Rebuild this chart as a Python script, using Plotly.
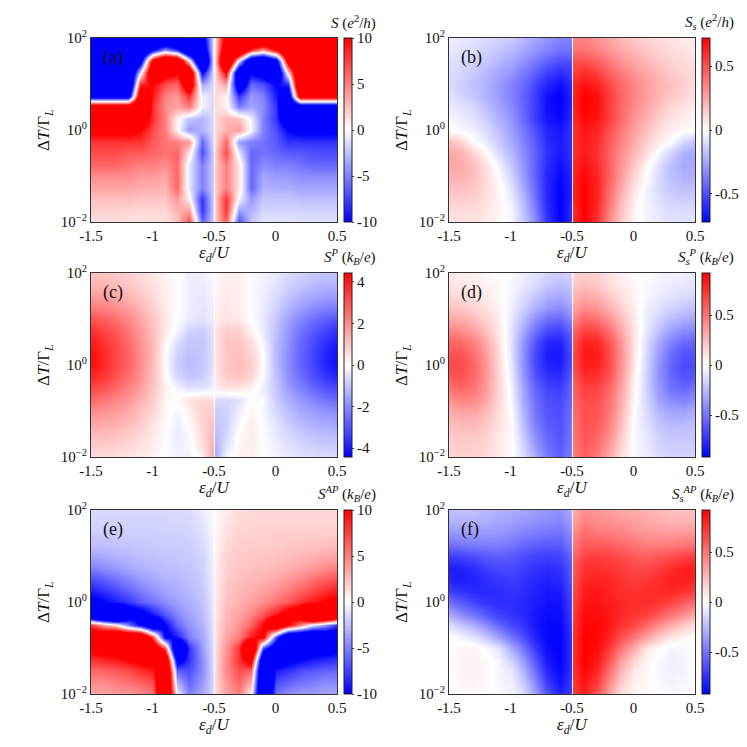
import plotly.graph_objects as go

# grid: eps_d/U columns, log10(dT/Gamma_L) rows (top to bottom)
eps = [-1.5, -1.4, -1.3, -1.2, -1.1, -1.0, -0.9, -0.8, -0.7, -0.6, -0.51, -0.5,
       -0.49, -0.4, -0.3, -0.2, -0.1, 0.0, 0.1, 0.2, 0.3, 0.4, 0.5]
log_dT = [2.0, 1.75, 1.5, 1.25, 1.0, 0.75, 0.5, 0.25, 0.0,
          -0.25, -0.5, -0.75, -1.0, -1.25, -1.5, -1.75, -2.0]

x_ticks = [-1.5, -1, -0.5, 0, 0.5]
x_ticktext = ['-1.5', '-1', '-0.5', '0', '0.5']
y_ticks = [-2, 0, 2]
y_ticktext = ['10<sup>−2</sup>', '10<sup>0</sup>', '10<sup>2</sup>']

# (a) S (e^2/h); values beyond +-10 are saturated in the picture
S = [
    [-20, -20, -20, -20, -20, -20, -20, -20, -20, -12, -1.5, 0, 1.5, 12, 20, 20, 20, 20, 20, 20, 20, 20, 20],
    [-20, -20, -20, -20, -20, -10, -4, -8, -20, -15, -1.5, 0, 1.5, 15, 20, 8, 4, 10, 20, 20, 20, 20, 20],
    [-20, -20, -20, -20, -13, 13, 20, 18, 1.5, -22, -1.5, 0, 1.5, 22, -1.5, -18, -20, -13, 13, 20, 20, 20, 20],
    [-20, -20, -20, -20, -1, 18, 12, 10, 18, -10, -1.5, 0, 1.5, 10, -18, -10, -12, -18, 1, 20, 20, 20, 20],
    [-20, -20, -20, -21, 8, 10, 7, 6, 15, -3.6, -1.5, 0, 1.5, 3.6, -15, -6, -7, -10, -8, 21, 20, 20, 20],
    [-14, -14, -14, -14, 15, 9, 5, 4, 8, -0.5, -1.5, 0, 1.5, 0.5, -8, -4, -5, -9, -15, 14, 14, 14, 14],
    [16, 16, 16, 16, 20, 8, 4.5, 3.5, 5, -0.5, -1.5, 0, 1.5, 0.5, -5, -3.5, -4.5, -8, -20, -16, -16, -16, -16],
    [16, 16, 16, 16, 14, 8, 5, 0.5, -2.5, -3, -1.5, 0, 1.5, 3, 2.5, -0.5, -5, -8, -14, -16, -16, -16, -16],
    [11, 11, 11, 11, 10, 7, 5, 0.3, -4, -3, -1.5, 0, 1.5, 3, 4, -0.3, -5, -7, -10, -11, -11, -11, -11],
    [8, 8, 8, 8, 8, 6.5, 5.5, 5, 4, -6, -1.5, 0, 1.5, 6, -4, -5, -5.5, -6.5, -8, -8, -8, -8, -8],
    [7, 7, 7, 6.5, 6.5, 6, 5.5, 6, 1, -7, -2, 0, 2, 7, -1, -6, -5.5, -6, -6.5, -6.5, -7, -7, -7],
    [6, 6, 6, 5.5, 5, 5, 4.5, 6, -1, -5, -2, 0, 2, 5, 1, -6, -4.5, -5, -5, -5.5, -6, -6, -6],
    [4.5, 4.5, 4.5, 4.5, 4, 4, 3.5, 6, -1, -5, -2, 0, 2, 5, 1, -6, -3.5, -4, -4, -4.5, -4.5, -4.5, -4.5],
    [3.5, 3.5, 3.5, 3.5, 3.2, 3.2, 3, 6, -1, -5, -2, 0, 2, 5, 1, -6, -3, -3.2, -3.2, -3.5, -3.5, -3.5, -3.5],
    [2.5, 2.5, 2.5, 2.5, 2.3, 2.3, 2.2, 4, 0.5, -8, -2, 0, 2, 8, -0.5, -4, -2.2, -2.3, -2.3, -2.5, -2.5, -2.5, -2.5],
    [1.8, 1.8, 1.8, 1.7, 1.6, 1.6, 1.6, 3, 4, -8, -2, 0, 2, 8, -4, -3, -1.6, -1.6, -1.6, -1.7, -1.8, -1.8, -1.8],
    [1.2, 1.2, 1.2, 1.2, 1.1, 1.1, 1.1, 2.2, 7, -6, -2, 0, 2, 6, -7, -2.2, -1.1, -1.1, -1.1, -1.2, -1.2, -1.2, -1.2],
]

# (b) S_s (e^2/h)
Ss = [
    [-0.05, -0.06, -0.08, -0.1, -0.12, -0.15, -0.2, -0.25, -0.3, -0.35, -0.35, 0, 0.35, 0.35, 0.3, 0.25, 0.2, 0.15, 0.12, 0.1, 0.08, 0.06, 0.05],
    [-0.06, -0.08, -0.1, -0.13, -0.16, -0.2, -0.25, -0.3, -0.35, -0.4, -0.4, 0, 0.4, 0.4, 0.35, 0.3, 0.25, 0.2, 0.16, 0.13, 0.1, 0.08, 0.06],
    [-0.08, -0.1, -0.13, -0.16, -0.2, -0.25, -0.3, -0.38, -0.45, -0.5, -0.5, 0, 0.5, 0.5, 0.45, 0.38, 0.3, 0.25, 0.2, 0.16, 0.13, 0.1, 0.08],
    [-0.1, -0.12, -0.15, -0.2, -0.25, -0.3, -0.38, -0.45, -0.55, -0.6, -0.55, 0, 0.55, 0.6, 0.55, 0.45, 0.38, 0.3, 0.25, 0.2, 0.15, 0.12, 0.1],
    [-0.1, -0.14, -0.18, -0.22, -0.28, -0.35, -0.42, -0.52, -0.62, -0.68, -0.6, 0, 0.6, 0.68, 0.62, 0.52, 0.42, 0.35, 0.28, 0.22, 0.18, 0.14, 0.1],
    [-0.08, -0.12, -0.16, -0.22, -0.28, -0.35, -0.44, -0.55, -0.68, -0.72, -0.62, 0, 0.62, 0.72, 0.68, 0.55, 0.44, 0.35, 0.28, 0.22, 0.16, 0.12, 0.08],
    [-0.05, -0.08, -0.12, -0.18, -0.25, -0.33, -0.43, -0.55, -0.68, -0.72, -0.62, 0, 0.62, 0.72, 0.68, 0.55, 0.43, 0.33, 0.25, 0.18, 0.12, 0.08, 0.05],
    [-0.02, -0.05, -0.08, -0.14, -0.22, -0.3, -0.42, -0.55, -0.66, -0.7, -0.6, 0, 0.6, 0.7, 0.66, 0.55, 0.42, 0.3, 0.22, 0.14, 0.08, 0.05, 0.02],
    [0.0, -0.02, -0.05, -0.1, -0.18, -0.27, -0.38, -0.5, -0.62, -0.66, -0.58, 0, 0.58, 0.66, 0.62, 0.5, 0.38, 0.27, 0.18, 0.1, 0.05, 0.02, 0.0],
    [0.18, 0.12, 0.0, -0.06, -0.14, -0.24, -0.35, -0.47, -0.6, -0.65, -0.58, 0, 0.58, 0.65, 0.6, 0.47, 0.35, 0.24, 0.14, 0.06, 0.0, -0.12, -0.18],
    [0.25, 0.22, 0.12, 0.02, -0.1, -0.2, -0.32, -0.45, -0.58, -0.65, -0.58, 0, 0.58, 0.65, 0.58, 0.45, 0.32, 0.2, 0.1, -0.02, -0.12, -0.22, -0.25],
    [0.25, 0.24, 0.18, 0.08, -0.03, -0.16, -0.3, -0.45, -0.6, -0.68, -0.6, 0, 0.6, 0.68, 0.6, 0.45, 0.3, 0.16, 0.03, -0.08, -0.18, -0.24, -0.25],
    [0.22, 0.22, 0.18, 0.1, 0.0, -0.12, -0.28, -0.45, -0.62, -0.7, -0.62, 0, 0.62, 0.7, 0.62, 0.45, 0.28, 0.12, 0.0, -0.1, -0.18, -0.22, -0.22],
    [0.18, 0.18, 0.16, 0.1, 0.03, -0.08, -0.24, -0.42, -0.62, -0.72, -0.62, 0, 0.62, 0.72, 0.62, 0.42, 0.24, 0.08, -0.03, -0.1, -0.16, -0.18, -0.18],
    [0.14, 0.14, 0.13, 0.09, 0.03, -0.05, -0.2, -0.4, -0.62, -0.72, -0.62, 0, 0.62, 0.72, 0.62, 0.4, 0.2, 0.05, -0.03, -0.09, -0.13, -0.14, -0.14],
    [0.1, 0.1, 0.1, 0.07, 0.03, -0.03, -0.17, -0.36, -0.6, -0.72, -0.6, 0, 0.6, 0.72, 0.6, 0.36, 0.17, 0.03, -0.03, -0.07, -0.1, -0.1, -0.1],
    [0.08, 0.08, 0.08, 0.06, 0.03, -0.02, -0.15, -0.33, -0.58, -0.72, -0.6, 0, 0.6, 0.72, 0.58, 0.33, 0.15, 0.02, -0.03, -0.06, -0.08, -0.08, -0.08],
]

# (c) S^P (k_B/e)
SP = [
    [1.0, 1.0, 0.9, 0.8, 0.6, 0.4, 0.2, 0.05, -0.3, -0.3, -0.1, 0, 0.1, 0.3, 0.3, -0.05, -0.2, -0.4, -0.6, -0.8, -0.9, -1.0, -1.0],
    [1.3, 1.3, 1.2, 1.0, 0.8, 0.5, 0.25, 0.05, -0.3, -0.35, -0.15, 0, 0.15, 0.35, 0.3, -0.05, -0.25, -0.5, -0.8, -1.0, -1.2, -1.3, -1.3],
    [1.7, 1.7, 1.5, 1.3, 1.0, 0.65, 0.3, 0.05, -0.3, -0.4, -0.2, 0, 0.2, 0.4, 0.3, -0.05, -0.3, -0.65, -1.0, -1.3, -1.5, -1.7, -1.7],
    [2.3, 2.2, 2.0, 1.7, 1.3, 0.8, 0.35, 0.05, -0.3, -0.45, -0.25, 0, 0.25, 0.45, 0.3, -0.05, -0.35, -0.8, -1.3, -1.7, -2.0, -2.2, -2.3],
    [3.0, 2.8, 2.5, 2.1, 1.6, 1.0, 0.4, 0.0, -0.4, -0.5, -0.3, 0, 0.3, 0.5, 0.4, 0.0, -0.4, -1.0, -1.6, -2.1, -2.5, -2.8, -3.0],
    [3.6, 3.3, 2.9, 2.4, 1.8, 1.1, 0.4, -0.2, -0.8, -0.9, -0.5, 0, 0.5, 0.9, 0.8, 0.2, -0.4, -1.1, -1.8, -2.4, -2.9, -3.3, -3.6],
    [4.0, 3.6, 3.1, 2.6, 1.9, 1.2, 0.2, -0.6, -1.0, -1.0, -0.5, 0, 0.5, 1.0, 1.0, 0.6, -0.2, -1.2, -1.9, -2.6, -3.1, -3.6, -4.0],
    [4.2, 3.8, 3.2, 2.7, 2.0, 1.2, 0.0, -0.8, -1.1, -1.0, -0.5, 0, 0.5, 1.0, 1.1, 0.8, 0.0, -1.2, -2.0, -2.7, -3.2, -3.8, -4.2],
    [4.2, 3.8, 3.2, 2.7, 2.0, 1.2, 0.0, -0.9, -1.2, -1.0, -0.5, 0, 0.5, 1.0, 1.2, 0.9, 0.0, -1.2, -2.0, -2.7, -3.2, -3.8, -4.2],
    [3.8, 3.5, 3.0, 2.5, 1.9, 1.1, 0.1, -0.7, -1.0, -0.9, -0.4, 0, 0.4, 0.9, 1.0, 0.7, -0.1, -1.1, -1.9, -2.5, -3.0, -3.5, -3.8],
    [3.2, 3.0, 2.6, 2.2, 1.7, 1.0, 0.3, -0.2, -0.5, -0.5, -0.3, 0, 0.3, 0.5, 0.5, 0.2, -0.3, -1.0, -1.7, -2.2, -2.6, -3.0, -3.2],
    [2.6, 2.4, 2.1, 1.8, 1.4, 0.9, 0.1, 0.05, 0.5, 0.7, 0.6, 0, -0.6, -0.7, -0.5, -0.05, -0.1, -0.9, -1.4, -1.8, -2.1, -2.4, -2.6],
    [2.0, 1.9, 1.7, 1.5, 1.1, 0.7, 0.15, -0.2, 0.3, 0.8, 0.9, 0, -0.9, -0.8, -0.3, 0.2, -0.15, -0.7, -1.1, -1.5, -1.7, -1.9, -2.0],
    [1.6, 1.5, 1.4, 1.2, 0.9, 0.5, 0.1, -0.3, 0.1, 0.8, 1.0, 0, -1.0, -0.8, -0.1, 0.3, -0.1, -0.5, -0.9, -1.2, -1.4, -1.5, -1.6],
    [1.2, 1.2, 1.1, 0.9, 0.7, 0.4, 0.05, -0.35, -0.1, 0.7, 1.2, 0, -1.2, -0.7, 0.1, 0.35, -0.05, -0.4, -0.7, -0.9, -1.1, -1.2, -1.2],
    [0.9, 0.9, 0.8, 0.7, 0.5, 0.3, 0.0, -0.3, -0.15, 0.5, 1.4, 0, -1.4, -0.5, 0.15, 0.3, 0.0, -0.3, -0.5, -0.7, -0.8, -0.9, -0.9],
    [0.6, 0.6, 0.6, 0.5, 0.4, 0.2, 0.0, -0.25, -0.2, 0.2, 1.5, 0, -1.5, -0.2, 0.2, 0.25, 0.0, -0.2, -0.4, -0.5, -0.6, -0.6, -0.6],
]

# (d) S_s^P (k_B/e)
SsP = [
    [0.08, 0.06, 0.05, 0.03, 0.01, -0.02, -0.05, -0.1, -0.15, -0.18, -0.15, 0, 0.15, 0.18, 0.15, 0.1, 0.05, 0.02, -0.01, -0.03, -0.05, -0.06, -0.08],
    [0.1, 0.08, 0.07, 0.05, 0.02, -0.03, -0.08, -0.13, -0.2, -0.24, -0.2, 0, 0.2, 0.24, 0.2, 0.13, 0.08, 0.03, -0.02, -0.05, -0.07, -0.08, -0.1],
    [0.15, 0.13, 0.1, 0.07, 0.03, -0.04, -0.12, -0.2, -0.28, -0.32, -0.26, 0, 0.26, 0.32, 0.28, 0.2, 0.12, 0.04, -0.03, -0.07, -0.1, -0.13, -0.15],
    [0.22, 0.2, 0.16, 0.11, 0.05, -0.06, -0.17, -0.28, -0.38, -0.42, -0.34, 0, 0.34, 0.42, 0.38, 0.28, 0.17, 0.06, -0.05, -0.11, -0.16, -0.2, -0.22],
    [0.32, 0.3, 0.24, 0.16, 0.07, -0.08, -0.24, -0.4, -0.52, -0.55, -0.44, 0, 0.44, 0.55, 0.52, 0.4, 0.24, 0.08, -0.07, -0.16, -0.24, -0.3, -0.32],
    [0.45, 0.42, 0.34, 0.22, 0.09, -0.1, -0.32, -0.52, -0.66, -0.7, -0.55, 0, 0.55, 0.7, 0.66, 0.52, 0.32, 0.1, -0.09, -0.22, -0.34, -0.42, -0.45],
    [0.56, 0.54, 0.45, 0.3, 0.12, -0.1, -0.38, -0.62, -0.78, -0.8, -0.62, 0, 0.62, 0.8, 0.78, 0.62, 0.38, 0.1, -0.12, -0.3, -0.45, -0.54, -0.56],
    [0.62, 0.62, 0.52, 0.35, 0.14, -0.1, -0.4, -0.66, -0.82, -0.84, -0.65, 0, 0.65, 0.84, 0.82, 0.66, 0.4, 0.1, -0.14, -0.35, -0.52, -0.62, -0.62],
    [0.65, 0.65, 0.55, 0.38, 0.15, -0.08, -0.4, -0.66, -0.8, -0.82, -0.64, 0, 0.64, 0.82, 0.8, 0.66, 0.4, 0.08, -0.15, -0.38, -0.55, -0.65, -0.65],
    [0.6, 0.62, 0.54, 0.38, 0.16, -0.06, -0.37, -0.62, -0.74, -0.76, -0.6, 0, 0.6, 0.76, 0.74, 0.62, 0.37, 0.06, -0.16, -0.38, -0.54, -0.62, -0.6],
    [0.5, 0.55, 0.5, 0.36, 0.16, -0.04, -0.33, -0.56, -0.68, -0.7, -0.56, 0, 0.56, 0.7, 0.68, 0.56, 0.33, 0.04, -0.16, -0.36, -0.5, -0.55, -0.5],
    [0.4, 0.45, 0.42, 0.32, 0.15, -0.02, -0.3, -0.52, -0.64, -0.66, -0.54, 0, 0.54, 0.66, 0.64, 0.52, 0.3, 0.02, -0.15, -0.32, -0.42, -0.45, -0.4],
    [0.3, 0.34, 0.33, 0.26, 0.13, 0.0, -0.27, -0.5, -0.62, -0.64, -0.52, 0, 0.52, 0.64, 0.62, 0.5, 0.27, 0.0, -0.13, -0.26, -0.33, -0.34, -0.3],
    [0.24, 0.26, 0.26, 0.21, 0.11, 0.02, -0.24, -0.47, -0.6, -0.63, -0.5, 0, 0.5, 0.63, 0.6, 0.47, 0.24, -0.02, -0.11, -0.21, -0.26, -0.26, -0.24],
    [0.2, 0.21, 0.21, 0.17, 0.09, 0.02, -0.2, -0.42, -0.56, -0.62, -0.5, 0, 0.5, 0.62, 0.56, 0.42, 0.2, -0.02, -0.09, -0.17, -0.21, -0.21, -0.2],
    [0.17, 0.18, 0.18, 0.15, 0.08, 0.02, -0.15, -0.36, -0.52, -0.6, -0.48, 0, 0.48, 0.6, 0.52, 0.36, 0.15, -0.02, -0.08, -0.15, -0.18, -0.18, -0.17],
    [0.15, 0.16, 0.16, 0.13, 0.07, 0.02, -0.12, -0.3, -0.48, -0.58, -0.46, 0, 0.46, 0.58, 0.48, 0.3, 0.12, -0.02, -0.07, -0.13, -0.16, -0.16, -0.15],
]

# (e) S^AP (k_B/e); values beyond +-10 are saturated in the picture
SAP = [
    [-1.5, -1.5, -1.5, -1.5, -1.5, -1.5, -1.5, -1.5, -1.4, -0.8, -0.1, 0, 0.1, 0.8, 1.4, 1.5, 1.5, 1.5, 1.5, 1.5, 1.5, 1.5, 1.5],
    [-1.7, -1.7, -1.7, -1.7, -1.7, -1.7, -1.7, -1.6, -1.5, -1.0, -0.2, 0, 0.2, 1.0, 1.5, 1.6, 1.7, 1.7, 1.7, 1.7, 1.7, 1.7, 1.7],
    [-2.0, -2.0, -2.0, -1.9, -1.9, -1.9, -1.8, -1.8, -1.7, -1.2, -0.3, 0, 0.3, 1.2, 1.7, 1.8, 1.8, 1.9, 1.9, 1.9, 2.0, 2.0, 2.0],
    [-2.6, -2.5, -2.4, -2.3, -2.2, -2.1, -2.0, -2.0, -1.9, -1.5, -0.4, 0, 0.4, 1.5, 1.9, 2.0, 2.0, 2.1, 2.2, 2.3, 2.4, 2.5, 2.6],
    [-3.5, -3.3, -3.0, -2.8, -2.6, -2.4, -2.3, -2.2, -2.1, -1.7, -0.5, 0, 0.5, 1.7, 2.1, 2.2, 2.3, 2.4, 2.6, 2.8, 3.0, 3.3, 3.5],
    [-5.0, -4.5, -4.0, -3.5, -3.1, -2.8, -2.6, -2.5, -2.3, -1.8, -0.6, 0, 0.6, 1.8, 2.3, 2.5, 2.6, 2.8, 3.1, 3.5, 4.0, 4.5, 5.0],
    [-7.0, -6.3, -5.5, -4.7, -4.0, -3.4, -3.0, -2.8, -2.5, -2.0, -0.7, 0, 0.7, 2.0, 2.5, 2.8, 3.0, 3.4, 4.0, 4.7, 5.5, 6.3, 7.0],
    [-9.0, -8.2, -7.2, -6.2, -5.2, -4.3, -3.7, -3.2, -2.8, -2.2, -0.8, 0, 0.8, 2.2, 2.8, 3.2, 3.7, 4.3, 5.2, 6.2, 7.2, 8.2, 9.0],
    [-11, -10, -9, -8, -6.5, -5.5, -4.5, -3.7, -3.1, -2.4, -0.9, 0, 0.9, 2.4, 3.1, 3.7, 4.5, 5.5, 6.5, 8, 9, 10, 11],
    [-22, -26, -30, -14, -12, -9, -6.5, -4.8, -3.6, -2.7, -1.0, 0, 1.0, 2.7, 3.6, 4.8, 6.5, 9, 12, 14, 30, 26, 22],
    [8, 4, 1, -5, -10, -17, -10, -6, -4.2, -3, -1.1, 0, 1.1, 3, 4.2, 6, 10, 17, 10, 5, -1, -4, -8],
    [14, 16, 20, 20, 20, 7, -11, -9, -5, -3.5, -1.2, 0, 1.2, 3.5, 5, 9, 11, -7, -20, -20, -20, -16, -14],
    [11, 12, 12, 13, 14, 15, 7, -21, -8, -4, -1.3, 0, 1.3, 4, 8, 21, -7, -15, -14, -13, -12, -12, -11],
    [8, 8.5, 9, 10, 11, 12, 17, -12, -8, -4.5, -1.4, 0, 1.4, 4.5, 8, 12, -17, -12, -11, -10, -9, -8.5, -8],
    [6, 6, 6.5, 7, 8, 9, 20, -6, -7, -4.5, -1.5, 0, 1.5, 4.5, 7, 6, -20, -9, -8, -7, -6.5, -6, -6],
    [4.5, 4.5, 5, 5.5, 6, 7, 20, -3, -6, -4, -1.5, 0, 1.5, 4, 6, 3, -20, -7, -6, -5.5, -5, -4.5, -4.5],
    [3.5, 3.5, 4, 4, 4.5, 5.5, 20, -0.5, -5, -3.5, -1.5, 0, 1.5, 3.5, 5, 0.5, -20, -5.5, -4.5, -4, -4, -3.5, -3.5],
]

# (f) S_s^AP (k_B/e)
SsAP = [
    [-0.22, -0.22, -0.23, -0.25, -0.28, -0.3, -0.32, -0.35, -0.38, -0.4, -0.3, 0, 0.3, 0.4, 0.38, 0.35, 0.32, 0.3, 0.28, 0.25, 0.23, 0.22, 0.22],
    [-0.28, -0.28, -0.28, -0.3, -0.32, -0.35, -0.38, -0.4, -0.42, -0.45, -0.35, 0, 0.35, 0.45, 0.42, 0.4, 0.38, 0.35, 0.32, 0.3, 0.28, 0.28, 0.28],
    [-0.38, -0.37, -0.36, -0.37, -0.38, -0.41, -0.45, -0.48, -0.5, -0.52, -0.42, 0, 0.42, 0.52, 0.5, 0.48, 0.45, 0.41, 0.38, 0.37, 0.36, 0.37, 0.38],
    [-0.52, -0.5, -0.48, -0.47, -0.47, -0.5, -0.55, -0.58, -0.6, -0.6, -0.48, 0, 0.48, 0.6, 0.6, 0.58, 0.55, 0.5, 0.47, 0.47, 0.48, 0.5, 0.52],
    [-0.7, -0.68, -0.64, -0.6, -0.58, -0.6, -0.65, -0.68, -0.7, -0.68, -0.55, 0, 0.55, 0.68, 0.7, 0.68, 0.65, 0.6, 0.58, 0.6, 0.64, 0.68, 0.7],
    [-0.82, -0.8, -0.76, -0.7, -0.66, -0.66, -0.7, -0.74, -0.76, -0.74, -0.6, 0, 0.6, 0.74, 0.76, 0.74, 0.7, 0.66, 0.66, 0.7, 0.76, 0.8, 0.82],
    [-0.8, -0.82, -0.8, -0.76, -0.72, -0.7, -0.74, -0.78, -0.8, -0.78, -0.62, 0, 0.62, 0.78, 0.8, 0.78, 0.74, 0.7, 0.72, 0.76, 0.8, 0.82, 0.8],
    [-0.7, -0.75, -0.78, -0.78, -0.76, -0.74, -0.76, -0.8, -0.84, -0.82, -0.65, 0, 0.65, 0.82, 0.84, 0.8, 0.76, 0.74, 0.76, 0.78, 0.78, 0.75, 0.7],
    [-0.52, -0.6, -0.68, -0.74, -0.76, -0.76, -0.78, -0.82, -0.86, -0.85, -0.68, 0, 0.68, 0.85, 0.86, 0.82, 0.78, 0.76, 0.76, 0.74, 0.68, 0.6, 0.52],
    [-0.32, -0.42, -0.52, -0.62, -0.7, -0.74, -0.78, -0.84, -0.88, -0.88, -0.7, 0, 0.7, 0.88, 0.88, 0.84, 0.78, 0.74, 0.7, 0.62, 0.52, 0.42, 0.32],
    [-0.12, -0.2, -0.3, -0.42, -0.55, -0.66, -0.74, -0.84, -0.9, -0.9, -0.72, 0, 0.72, 0.9, 0.9, 0.84, 0.74, 0.66, 0.55, 0.42, 0.3, 0.2, 0.12],
    [0.0, -0.04, -0.1, -0.2, -0.34, -0.5, -0.64, -0.8, -0.9, -0.92, -0.74, 0, 0.74, 0.92, 0.9, 0.8, 0.64, 0.5, 0.34, 0.2, 0.1, 0.04, 0.0],
    [0.0, 0.03, 0.04, -0.02, -0.1, -0.3, -0.5, -0.72, -0.88, -0.92, -0.75, 0, 0.75, 0.92, 0.88, 0.72, 0.5, 0.3, 0.1, 0.02, -0.04, -0.03, 0.0],
    [0.0, 0.04, 0.05, 0.02, -0.03, -0.16, -0.36, -0.62, -0.84, -0.92, -0.75, 0, 0.75, 0.92, 0.84, 0.62, 0.36, 0.16, 0.03, -0.02, -0.05, -0.04, 0.0],
    [0.0, 0.04, 0.05, 0.02, -0.03, -0.08, -0.26, -0.52, -0.78, -0.9, -0.74, 0, 0.74, 0.9, 0.78, 0.52, 0.26, 0.08, 0.03, -0.02, -0.05, -0.04, 0.0],
    [0.0, 0.03, 0.04, 0.02, -0.03, -0.05, -0.18, -0.42, -0.7, -0.86, -0.72, 0, 0.72, 0.86, 0.7, 0.42, 0.18, 0.05, 0.03, -0.02, -0.04, -0.03, 0.0],
    [0.0, 0.02, 0.03, 0.01, -0.03, -0.04, -0.12, -0.34, -0.62, -0.8, -0.7, 0, 0.7, 0.8, 0.62, 0.34, 0.12, 0.04, 0.03, -0.01, -0.03, -0.02, 0.0],
]

cb_ticks_10 = [-10, -5, 0, 5, 10]
cb_text_10 = ['-10', '-5', '0', '5', '10']
cb_ticks_half = [-0.5, 0, 0.5]
cb_text_half = ['-0.5', '0', '0.5']
cb_ticks_4 = [-4, -2, 0, 2, 4]
cb_text_4 = ['-4', '-2', '0', '2', '4']

W = H = 747
FONT = 'Liberation Serif'
bwr = [[0, 'rgb(0,0,255)'], [0.5, 'rgb(255,255,255)'], [1, 'rgb(255,0,0)']]

# plot boxes in pixels (left, right) and (top, bottom)
cols = [(91, 337), (449, 695)]
rows = [(38, 222), (273, 457), (510, 694)]

panels = [
    (S, 10, cb_ticks_10, cb_text_10, '<i>S</i> (<i>e</i><sup>2</sup>/<i>h</i>)', '(a)'),
    (Ss, 0.72, cb_ticks_half, cb_text_half, '<i>S<sub>s</sub></i> (<i>e</i><sup>2</sup>/<i>h</i>)', '(b)'),
    (SP, 4.43, cb_ticks_4, cb_text_4, '<i>S<sup>P</sup></i> (<i>k<sub>B</sub></i>/<i>e</i>)', '(c)'),
    (SsP, 0.92, cb_ticks_half, cb_text_half, '<i>S<sub>s</sub><sup>P</sup></i> (<i>k<sub>B</sub></i>/<i>e</i>)', '(d)'),
    (SAP, 10, cb_ticks_10, cb_text_10, '<i>S<sup>AP</sup></i> (<i>k<sub>B</sub></i>/<i>e</i>)', '(e)'),
    (SsAP, 0.92, cb_ticks_half, cb_text_half, '<i>S<sub>s</sub><sup>AP</sup></i> (<i>k<sub>B</sub></i>/<i>e</i>)', '(f)'),
]


def px(v):
    return v / W


def py(v):
    return 1 - v / H


fig = go.Figure()
annotations = []
for i, (z, zmax, ctv, ctt, ctitle, letter) in enumerate(panels):
    r, c = divmod(i, 2)
    x0, x1 = cols[c]
    y0, y1 = rows[r]
    n = '' if i == 0 else str(i + 1)
    fig.add_trace(go.Heatmap(
        x=eps, y=log_dT, z=z, zmin=-zmax, zmax=zmax, zsmooth='best',
        colorscale=bwr, xaxis='x' + n, yaxis='y' + n,
        colorbar=dict(x=px(x1 + 7), xanchor='left', y=py((y0 + y1) / 2), yanchor='middle',
                      len=(y1 - y0) / H, thickness=8, xpad=0, ypad=0,
                      outlinewidth=1, outlinecolor='#222',
                      tickvals=ctv, ticktext=ctt, ticks='outside', ticklen=2,
                      tickfont=dict(family=FONT, size=15, color='#111')),
    ))
    ax = dict(domain=[px(x0), px(x1)], range=[-1.5, 0.5], tickvals=x_ticks, ticktext=x_ticktext,
              showline=True, mirror=True, linecolor='#333', linewidth=1, showgrid=False,
              zeroline=False, ticks='', automargin=False,
              tickfont=dict(family=FONT, size=15, color='#111'), anchor='y' + n)
    ay = dict(domain=[py(y1), py(y0)], range=[-2, 2], tickvals=y_ticks, ticktext=y_ticktext,
              showline=True, mirror=True, linecolor='#333', linewidth=1, showgrid=False,
              zeroline=False, ticks='', automargin=False,
              tickfont=dict(family=FONT, size=15, color='#111'), anchor='x' + n)
    fig.layout['xaxis' + n] = ax
    fig.layout['yaxis' + n] = ay

    annotations.append(dict(x=px(x0 + 10), y=py(y0 + 19), xref='paper', yref='paper',
                            text=letter, showarrow=False, xanchor='left', yanchor='middle',
                            font=dict(family=FONT, size=18, color='#111')))
    annotations.append(dict(x=px(x1 + 41), y=py(y0 - 16), xref='paper', yref='paper',
                            text=ctitle, showarrow=False, xanchor='right', yanchor='middle',
                            font=dict(family=FONT, size=15, color='#111')))
    annotations.append(dict(x=px((x0 + x1) / 2), y=py(y1 + 32), xref='paper', yref='paper',
                            text='<i>ε<sub>d</sub></i>/<i>U</i>', showarrow=False,
                            xanchor='center', yanchor='middle',
                            font=dict(family=FONT, size=17, color='#111')))
    annotations.append(dict(x=px(x0 - 46), y=py((y0 + y1) / 2), xref='paper', yref='paper',
                            text='Δ<i>T</i>/Γ<sub><i>L</i></sub>', showarrow=False, textangle=-90,
                            xanchor='center', yanchor='middle',
                            font=dict(family=FONT, size=17, color='#111')))

fig.update_layout(width=W, height=H,
                  margin=dict(l=0, r=0, t=0, b=0, autoexpand=False),
                  paper_bgcolor='white', plot_bgcolor='white',
                  annotations=annotations, showlegend=False)
# the page body has a default 8px margin; remove it so the 747px figure fits the window
fig.write_html('out.html', config={'displayModeBar': False},
               post_script="document.body.style.margin='0';")
